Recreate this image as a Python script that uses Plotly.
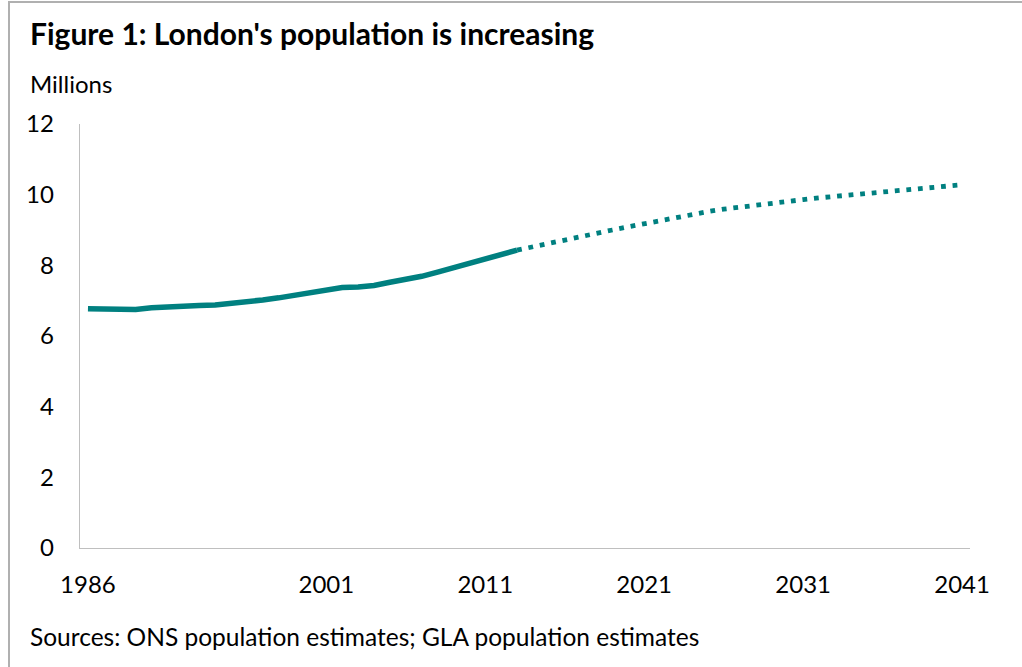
import plotly.graph_objects as go

# Data (millions)
years_est = list(range(1986, 2014))
pop_est = [6.77, 6.76, 6.73, 6.75, 6.80, 6.83, 6.85, 6.86, 6.88, 6.92,
           6.97, 7.02, 7.08, 7.16, 7.24, 7.32, 7.37, 7.39, 7.43, 7.52,
           7.60, 7.69, 7.81, 7.94, 8.06, 8.20, 8.31, 8.43]

years_proj = list(range(2013, 2042))
pop_proj = [8.43, 8.53, 8.63, 8.72, 8.81, 8.90, 9.00, 9.09, 9.18, 9.27,
            9.36, 9.44, 9.52, 9.59, 9.65, 9.71, 9.76, 9.81, 9.86, 9.91,
            9.95, 9.99, 10.03, 10.07, 10.11, 10.15, 10.19, 10.23, 10.28]

x_ticks = [1986, 2001, 2011, 2021, 2031, 2041]
y_ticks = [0, 2, 4, 6, 8, 10, 12]

TEAL = "rgb(0,128,128)"
FONT = "Lato"

fig = go.Figure()
fig.add_trace(go.Scatter(x=years_est, y=pop_est, mode="lines",
                         line=dict(color=TEAL, width=5.5), hoverinfo="skip",
                         showlegend=False))
fig.add_trace(go.Scatter(x=years_proj, y=pop_proj, mode="lines",
                         line=dict(color=TEAL, width=4.8, dash="4.8px,6.8px"),
                         hoverinfo="skip", showlegend=False))

fig.update_layout(
    width=1022, height=667,
    margin=dict(l=80, r=52, t=124, b=119),
    paper_bgcolor="white", plot_bgcolor="white",
    font=dict(family=FONT, size=24, color="black"),
    xaxis=dict(range=[1985.5, 2041.5], tickvals=x_ticks,
               ticktext=[str(v) for v in x_ticks],
               showgrid=False, zeroline=False, showline=True,
               linecolor="#BFBFBF", linewidth=1.3, ticks="",
               ticklabelstandoff=15, tickfont=dict(size=24)),
    yaxis=dict(range=[0, 12], tickvals=y_ticks, showgrid=False,
               zeroline=False, showline=True, linecolor="#BFBFBF",
               linewidth=1.3, ticks="", ticklabelstandoff=20,
               tickfont=dict(size=24)),
    annotations=[
        dict(text="<b>Figure 1: London's population is increasing</b>",
             xref="paper", yref="paper", x=(28 - 80) / 890, y=(548 - 33) / 424,
             xanchor="left", yanchor="middle", showarrow=False,
             font=dict(size=30, family=FONT)),
        dict(text="Millions", xref="paper", yref="paper",
             x=(28 - 80) / 890, y=(548 - 83) / 424,
             xanchor="left", yanchor="middle", showarrow=False,
             font=dict(size=24, family=FONT)),
        dict(text="Sources: ONS population estimates; GLA population estimates",
             xref="paper", yref="paper", x=(28 - 80) / 890, y=(548 - 636) / 424,
             xanchor="left", yanchor="middle", showarrow=False,
             font=dict(size=24.5, family=FONT)),
    ],
    shapes=[
        dict(type="path", xref="paper", yref="paper",
             path="M %f %f L %f %f L %f %f" % (
                 (9 - 80) / 890, (548 - 670) / 424,
                 (9 - 80) / 890, (548 - 2) / 424,
                 (1025 - 80) / 890, (548 - 2) / 424),
             line=dict(color="#B0B0B0", width=2)),
    ],
)

fig.write_html("out.html",
               config={"displayModeBar": False, "staticPlot": True},
               post_script="document.body.style.margin='0';"
                           "document.body.style.overflow='hidden';")
